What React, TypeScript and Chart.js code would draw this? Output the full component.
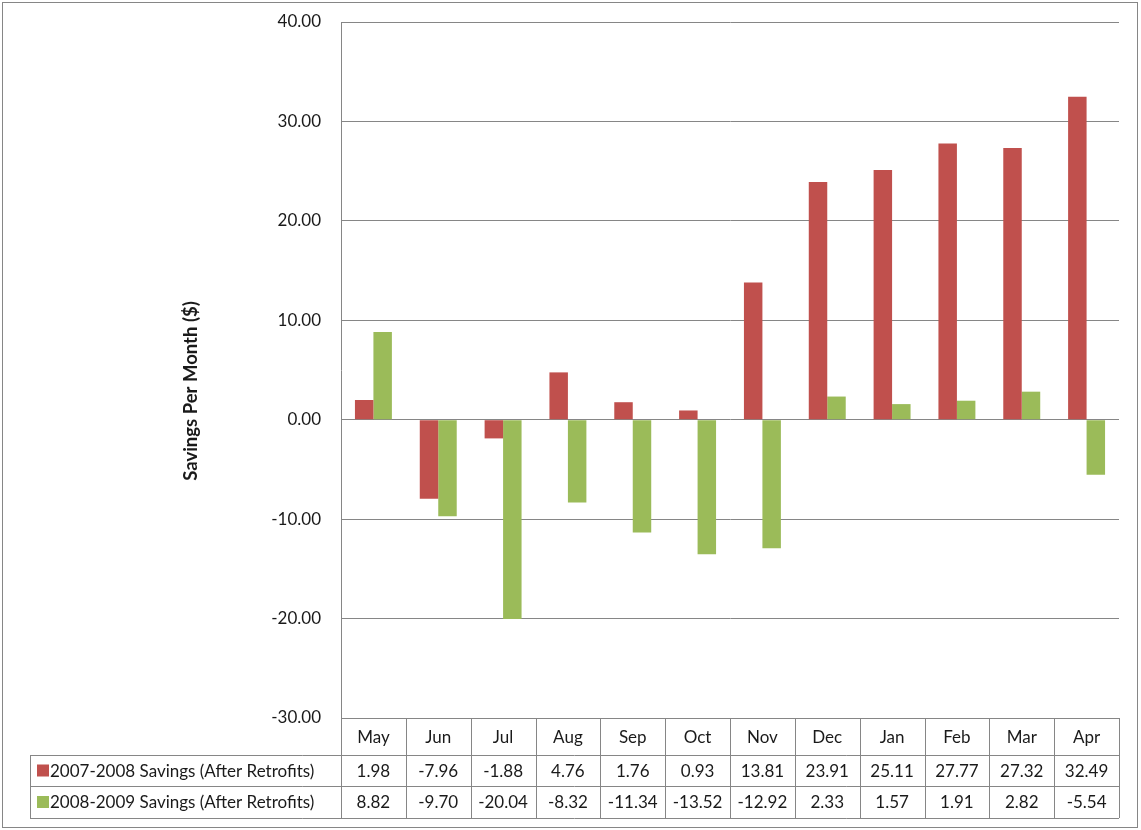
import React, { useEffect, useRef } from "react";
import { Chart, registerables } from "chart.js";

Chart.register(...registerables);

const months = ["May", "Jun", "Jul", "Aug", "Sep", "Oct", "Nov", "Dec", "Jan", "Feb", "Mar", "Apr"];
const series1Label = "2007-2008 Savings (After Retrofits)";
const series2Label = "2008-2009 Savings (After Retrofits)";
const savings0708 = [1.98, -7.96, -1.88, 4.76, 1.76, 0.93, 13.81, 23.91, 25.11, 27.77, 27.32, 32.49];
const savings0809 = [8.82, -9.7, -20.04, -8.32, -11.34, -13.52, -12.92, 2.33, 1.57, 1.91, 2.82, -5.54];
const yMin = -30;
const yMax = 40;
const yStep = 10;
const yTitle = "Savings Per Month ($)";

const RED = "#C0504D";
const GREEN = "#9BBB59";
const LINE = "#868686";
const TEXT = "#1a1a1a";
const FONT = "Lato, 'Open Sans', sans-serif";

const tablePlugin = {
  id: "dataTable",
  afterDraw(chart: any) {
    const ctx = chart.ctx as CanvasRenderingContext2D;
    const area = chart.chartArea;
    const xs = chart.scales.x;
    const n = months.length;
    const colW = (area.right - area.left) / n;
    const top = area.bottom;
    const r1 = top + 37;
    const r2 = r1 + 31;
    const r3 = r2 + 32;
    const legendLeft = 30;

    ctx.save();
    ctx.strokeStyle = LINE;
    ctx.lineWidth = 1;
    ctx.strokeRect(2.5, 2.5, chart.width - 6, chart.height - 5);

    ctx.beginPath();
    ctx.moveTo(area.left, top + 0.5);
    ctx.lineTo(area.right, top + 0.5);
    ctx.moveTo(legendLeft, r1 + 0.5);
    ctx.lineTo(area.right, r1 + 0.5);
    ctx.moveTo(legendLeft, r2 + 0.5);
    ctx.lineTo(area.right, r2 + 0.5);
    ctx.moveTo(legendLeft, r3 + 0.5);
    ctx.lineTo(area.right, r3 + 0.5);
    ctx.moveTo(legendLeft + 0.5, r1);
    ctx.lineTo(legendLeft + 0.5, r3);
    for (let i = 0; i <= n; i++) {
      const x = Math.round(area.left + i * colW) + 0.5;
      ctx.moveTo(x, top);
      ctx.lineTo(x, r3);
    }
    ctx.stroke();

    ctx.fillStyle = TEXT;
    ctx.font = `17px ${FONT}`;
    ctx.textBaseline = "middle";
    ctx.textAlign = "center";
    months.forEach((m, i) => {
      const cx = xs.getPixelForValue(i);
      ctx.fillText(m, cx, (top + r1) / 2 + 1);
      ctx.fillText(savings0708[i].toFixed(2), cx, (r1 + r2) / 2 + 1);
      ctx.fillText(savings0809[i].toFixed(2), cx, (r2 + r3) / 2 + 1);
    });

    ctx.textAlign = "left";
    ctx.fillStyle = RED;
    ctx.fillRect(37, (r1 + r2) / 2 - 6, 12, 12);
    ctx.fillStyle = GREEN;
    ctx.fillRect(37, (r2 + r3) / 2 - 6, 12, 12);
    ctx.fillStyle = TEXT;
    ctx.fillText(series1Label, 50, (r1 + r2) / 2 + 1);
    ctx.fillText(series2Label, 50, (r2 + r3) / 2 + 1);

    ctx.translate(191, 391);
    ctx.rotate(-Math.PI / 2);
    ctx.textAlign = "center";
    ctx.font = `bold 18.5px ${FONT}`;
    ctx.fillText(yTitle, 0, 0);
    ctx.restore();
  },
};

export default function App() {
  const ref = useRef<HTMLCanvasElement>(null);
  useEffect(() => {
    if (!ref.current) return;
    const chart = new Chart(ref.current, {
      type: "bar",
      data: {
        labels: months,
        datasets: [
          { label: series1Label, data: savings0708, backgroundColor: RED, borderWidth: 0 },
          { label: series2Label, data: savings0809, backgroundColor: GREEN, borderWidth: 0 },
        ],
      },
      options: {
        animation: false,
        responsive: false,
        devicePixelRatio: 1,
        layout: { padding: { left: 241, top: 22, right: 22, bottom: 112 } },
        datasets: { bar: { categoryPercentage: 0.57, barPercentage: 1.0 } },
        plugins: { legend: { display: false }, tooltip: { enabled: false } },
        scales: {
          x: { display: false },
          y: {
            min: yMin,
            max: yMax,
            afterFit: (s: any) => {
              s.width = 100;
              s.paddingTop = 0;
              s.paddingBottom = 0;
            },
            ticks: {
              stepSize: yStep,
              padding: 20,
              color: TEXT,
              font: { family: FONT, size: 17 },
              callback: (v: any) => Number(v).toFixed(2),
            },
            grid: { color: LINE, drawTicks: false, lineWidth: 1 },
            border: { display: true, color: LINE },
          },
        },
      },
      plugins: [tablePlugin],
    });
    return () => chart.destroy();
  }, []);
  return (
    <div style={{ position: "fixed", left: 0, top: 0, width: 1141, height: 830, background: "#fff" }}>
      <canvas ref={ref} width={1141} height={830} />
    </div>
  );
}
